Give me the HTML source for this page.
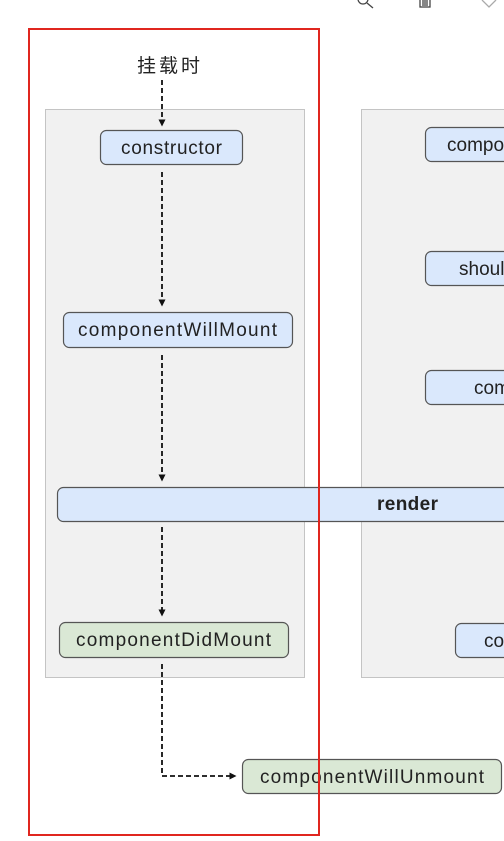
<!DOCTYPE html>
<html><head><meta charset="utf-8"><style>
html,body{margin:0;padding:0;background:#fff;width:504px;height:841px;overflow:hidden}
text{font-family:"Liberation Sans","Noto Sans CJK SC",sans-serif;font-size:19px;fill:#222}
</style></head><body>
<svg width="504" height="841" xmlns="http://www.w3.org/2000/svg">
<defs><marker id="a" markerWidth="7" markerHeight="7" refX="3.5" refY="3.5" orient="auto" markerUnits="userSpaceOnUse"><path d="M0,0 L7,3.5 L0,7 z" fill="#111"/></marker></defs>
<g stroke="#444" fill="none" stroke-width="1.3">
<circle cx="363" cy="-1" r="5"/><line x1="367" y1="3" x2="373" y2="8"/>
<rect x="420" y="-2" width="10" height="9"/><line x1="423" y1="0" x2="423" y2="6"/><line x1="425" y1="0" x2="425" y2="6"/><line x1="427" y1="0" x2="427" y2="6"/>
<path d="M482,0 L489,7 L496,0" stroke="#aaa"/>
</g>
<rect x="45.5" y="109.5" width="259" height="568" fill="#f1f1f1" stroke="#c4c4c4"/>
<rect x="361.5" y="109.5" width="160" height="568" fill="#f1f1f1" stroke="#c4c4c4"/>
<g stroke="#111" stroke-width="1.8" stroke-dasharray="5,3" fill="none">
<line x1="162" y1="80" x2="162" y2="123" marker-end="url(#a)"/>
<line x1="162" y1="172" x2="162" y2="303" marker-end="url(#a)"/>
<line x1="162" y1="355" x2="162" y2="478" marker-end="url(#a)"/>
<line x1="162" y1="527" x2="162" y2="613" marker-end="url(#a)"/>
<polyline points="162,664 162,776 233,776" marker-end="url(#a)"/>
</g>
<g stroke="#555" stroke-width="1.2">
<rect x="100.5" y="130.5" width="142" height="34" rx="6" fill="#dae8fc"/>
<rect x="63.5" y="312.5" width="229" height="35" rx="6" fill="#dae8fc"/>
<rect x="57.5" y="487.5" width="470" height="34" rx="6" fill="#dae8fc"/>
<rect x="59.5" y="622.5" width="229" height="35" rx="6" fill="#dae8d5"/>
<rect x="242.5" y="759.5" width="259" height="34" rx="6" fill="#dae8d5"/>
<rect x="425.5" y="127.5" width="120" height="34" rx="6" fill="#dae8fc"/>
<rect x="425.5" y="251.5" width="120" height="34" rx="6" fill="#dae8fc"/>
<rect x="425.5" y="370.5" width="120" height="34" rx="6" fill="#dae8fc"/>
<rect x="455.5" y="623.5" width="120" height="34" rx="6" fill="#dae8fc"/>
</g>
<text x="137" y="72" font-size="20" textLength="63">挂载时</text>
<text x="121" y="154" textLength="101">constructor</text>
<text x="78" y="336" textLength="199">componentWillMount</text>
<text x="377" y="510" font-weight="bold" textLength="61">render</text>
<text x="76" y="646" textLength="195">componentDidMount</text>
<text x="260" y="783" textLength="224">componentWillUnmount</text>
<text x="447" y="151">componentDidUpdate</text>
<text x="459" y="275">shouldComponentUpdate</text>
<text x="474" y="394">componentWillUpdate</text>
<text x="484" y="647">componentDidUpdate</text>
<rect x="29" y="29" width="290" height="806" fill="none" stroke="#e0261f" stroke-width="2"/>
</svg>
</body></html>
